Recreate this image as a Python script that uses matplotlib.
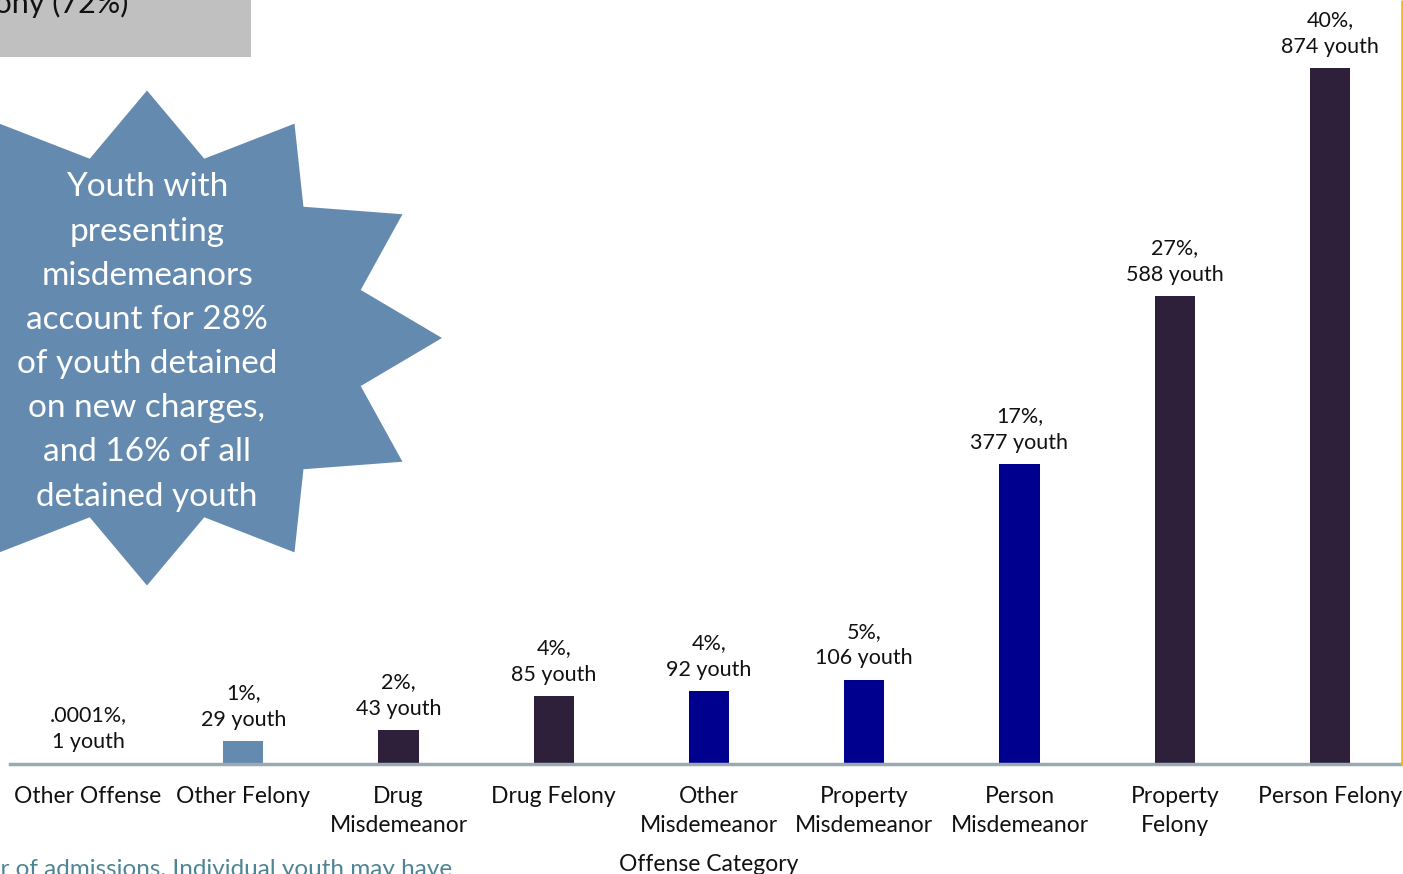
import numpy as np
import matplotlib.pyplot as plt
from matplotlib.patches import Polygon, Rectangle

plt.rcParams['font.family'] = ['Lato', 'DejaVu Sans']

# Detention admissions by presenting offense
categories = ["Other Offense", "Other Felony", "Drug\nMisdemeanor", "Drug Felony",
              "Other\nMisdemeanor", "Property\nMisdemeanor", "Person\nMisdemeanor",
              "Property\nFelony", "Person Felony"]
youth = [1, 29, 43, 85, 92, 106, 377, 588, 874]
pct_labels = [".0001%", "1%", "2%", "4%", "4%", "5%", "17%", "27%", "40%"]

PURPLE = "#2E1F3B"
NAVY = "#00008F"
STEEL = "#648BAF"
bar_colors = [STEEL, STEEL, PURPLE, PURPLE, NAVY, NAVY, NAVY, PURPLE, PURPLE]

W, H = 1403, 874
fig = plt.figure(figsize=(W / 100, H / 100), dpi=100)

# main bar chart
ax = fig.add_axes([10.4 / W, 110 / H, 1397.2 / W, 796.3 / H])
x = np.arange(len(categories))
ax.bar(x, youth, width=0.258, color=bar_colors, zorder=2)
ax.set_xlim(-0.5, len(categories) - 0.5)
ax.set_ylim(0, 1000)

for i, (n, p) in enumerate(zip(youth, pct_labels)):
    ax.annotate(f"{p},\n{n} youth", (i, n), xytext=(0, 8), textcoords="offset points",
                ha="center", va="bottom", fontsize=15.5, linespacing=1.42, color="#111111")

for side in ["top", "left", "right"]:
    ax.spines[side].set_visible(False)
ax.spines["bottom"].set_color("#9AAAB2")
ax.spines["bottom"].set_linewidth(2.5)
ax.set_yticks([])
ax.set_xticks(x)
ax.set_xticklabels(categories, fontsize=16.5, linespacing=1.47, color="#111111")
ax.tick_params(axis="x", length=0, pad=16)
ax.set_xlabel("Offense Category", fontsize=16.5, color="#111111", labelpad=13)

# overlay in pixel coordinates for the slide shapes
ov = fig.add_axes([0, 0, 1, 1], zorder=5)
ov.set_xlim(0, W)
ov.set_ylim(H, 0)
ov.axis("off")

# 12-point starburst
cx, cy, rx, ry, inner = 147, 338, 295, 247.5, 0.75
ang = np.deg2rad(np.arange(24) * 15)
rad = np.where(np.arange(24) % 2 == 0, 1.0, inner)
star = np.column_stack([cx + rx * rad * np.cos(ang), cy - ry * rad * np.sin(ang)])
ov.add_patch(Polygon(star, closed=True, facecolor=STEEL, edgecolor="none"))
ov.text(cx, 342, "Youth with\npresenting\nmisdemeanors\naccount for 28%\nof youth detained\n"
        "on new charges,\nand 16% of all\ndetained youth",
        ha="center", va="center", fontsize=24, color="white", linespacing=1.59)

# grey callout box at top left
ov.add_patch(Rectangle((0, 0), 251, 57, facecolor="#C0C0C0", edgecolor="none"))
ov.text(128, 13, "Felony (72%)", ha="right", va="baseline", fontsize=22, color="#111111")

# note along the bottom
ov.text(452, 869, "Number of admissions. Individual youth may have", ha="right", va="center",
        fontsize=17.5, color="#4E8594")

# gold frame edge
ov.plot([1402, 1402], [0, 765], color="#F9BE00", lw=2, solid_capstyle="butt")

fig.savefig("out.png", dpi=100)
